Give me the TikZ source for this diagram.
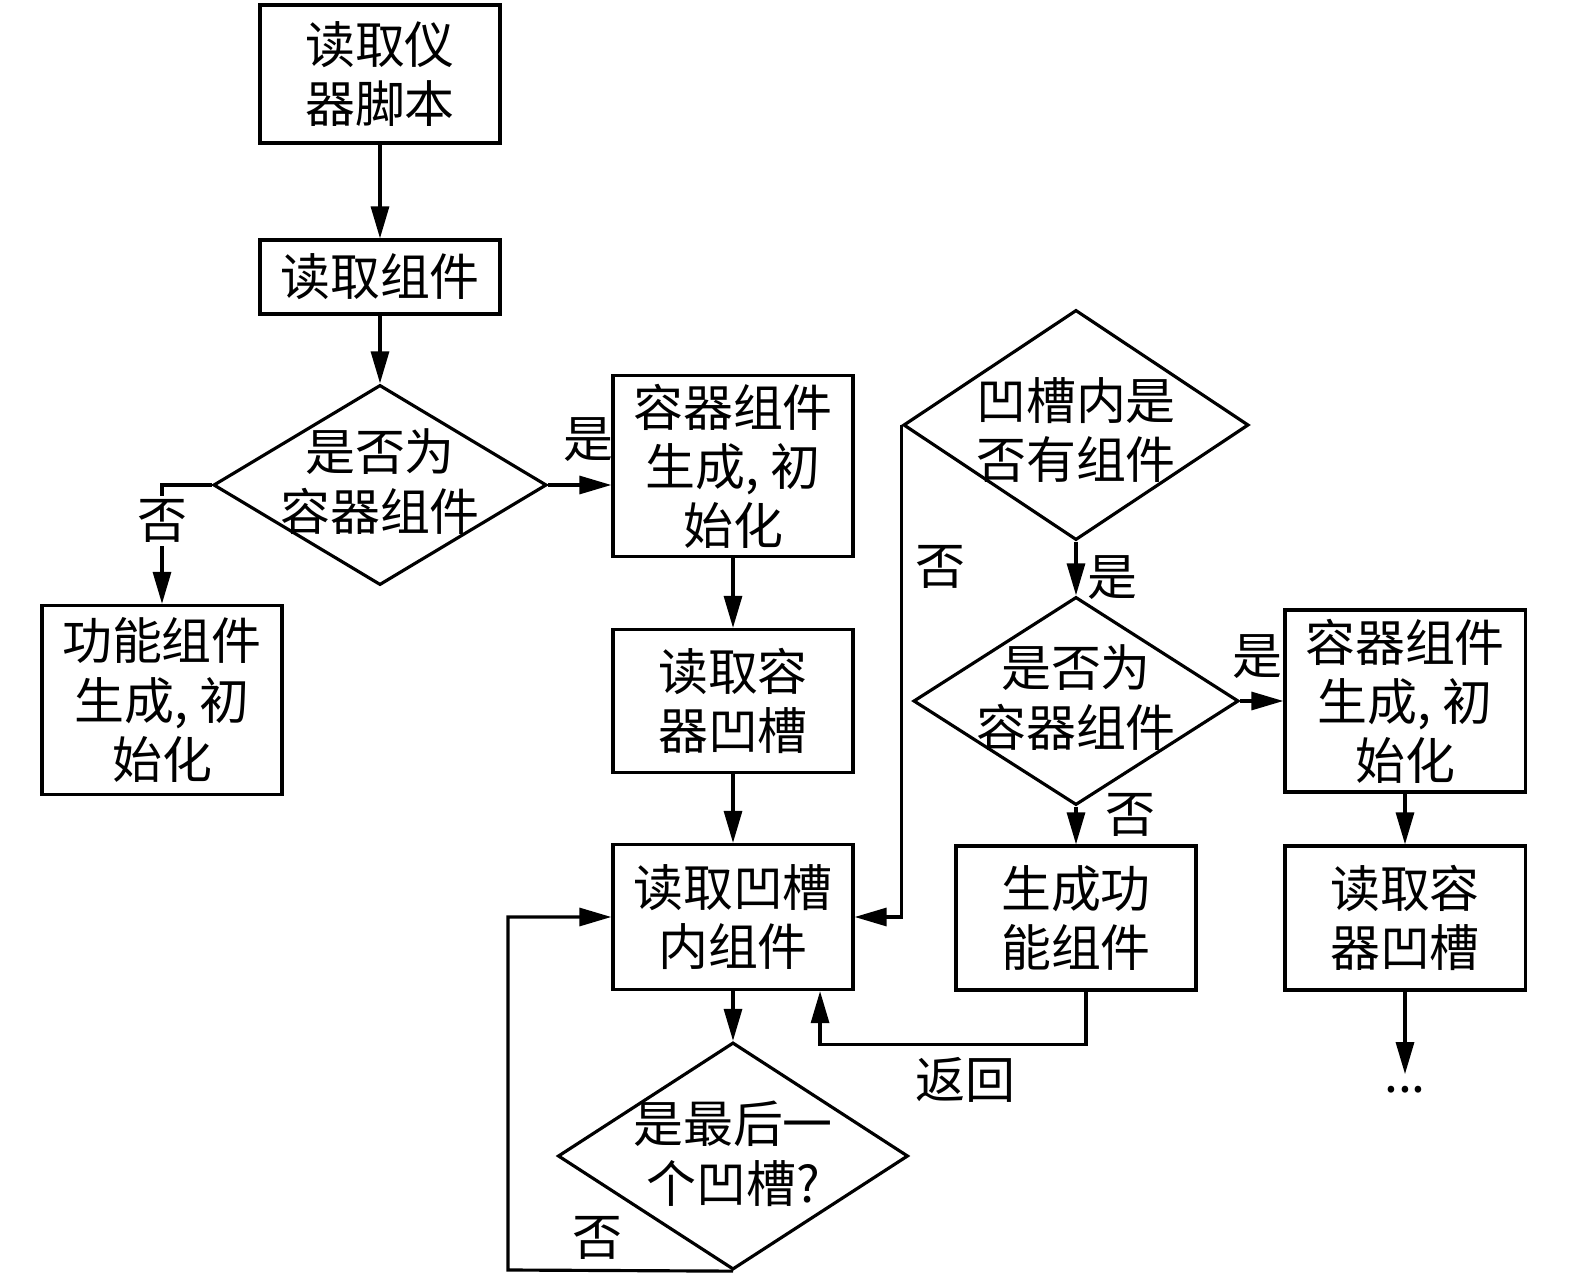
\documentclass[tikz,border=0pt]{standalone}
\usepackage{fontspec}
\setmainfont{Noto Sans CJK SC}
\usetikzlibrary{arrows.meta,shapes.geometric}
\tikzset{
    >={Triangle[length=3.2mm,width=1.8mm]},
    flow/.style={
        every node/.append style={font=\fontsize{14.2pt}{16.8pt}\selectfont},
        proc/.append style={align=center,draw,line width=0.9pt,rectangle,minimum width=2.4cm,inner sep=0pt},
        dec/.append style={draw,line width=0.9pt,diamond,inner sep=0pt},
        lbl/.append style={inner sep=1pt},
        conn/.append style={draw,line width=0.9pt,->}
    }
}
\newcommand{\dtext}[2][-4.5pt]{\makebox[0pt]{\smash{\raisebox{#1}{\begin{tabular}{@{}c@{}}#2\end{tabular}}}}}

\begin{document}
\begin{tikzpicture}[flow,x=0.01cm,y=-0.01cm]
    \useasboundingbox (0,0) rectangle (1575,1285);
    \node[proc,minimum height=1.38cm] (rd) at (380,74) {读取仪\\器脚本};
    \node[proc,minimum height=0.74cm] (rdc) at (380,277) {读取组件};
    \node[dec,minimum width=3.33cm,minimum height=2cm] (isc) at (380,485) {\dtext{是否为\\容器组件}};
    \node[proc,minimum height=1.89cm] (fun) at (162,700) {功能组件\\生成, 初\\始化};
    \node[proc,minimum height=1.81cm] (con) at (733,466) {容器组件\\生成, 初\\始化};
    \node[proc,minimum height=1.43cm] (slot) at (733,701) {读取容\\器凹槽};
    \node[proc,minimum height=1.45cm] (inner) at (733,917) {读取凹槽\\内组件};
    \node[dec,minimum width=3.5cm,minimum height=2.27cm] (last) at (733,1156) {\dtext[-5pt]{是最后一\\个凹槽?}};
    \node[dec,minimum width=3.45cm,minimum height=2.3cm] (has) at (1076,425) {\dtext[-7pt]{凹槽内是\\否有组件}};
    \node[dec,minimum width=3.25cm,minimum height=2.08cm] (isc2) at (1076,701) {\dtext{是否为\\容器组件}};
    \node[proc,minimum height=1.44cm] (gen) at (1076,918) {生成功\\能组件};
    \node[proc,minimum height=1.82cm] (con2) at (1405,701) {容器组件\\生成, 初\\始化};
    \node[proc,minimum height=1.44cm] (slot2) at (1405,918) {读取容\\器凹槽};
    \node (etc) at (1405,1090) {...};
    \coordinate (lp) at (508,1270);

    \path (rd) edge[conn] (rdc);
    \path (rdc) edge[conn] (isc);
    \draw[conn] (isc.east) -- (isc.east -| con.west);
    \node[lbl] (y1) at (588,440) {是};
    \draw[conn] (isc.west) -- (fun.north |- isc.west) -- node[lbl,pos=.3,fill=white] (n1) {否} (fun.north);
    \path (con) edge[conn] (slot);
    \path (slot) edge[conn] (inner);
    \path (inner) edge[conn] (last);
    \draw[conn] (last.south) -- (lp) |- (inner.west);
    \node[lbl] (n2) at (597,1238) {否};
    \draw[conn] (has.west) |- (inner.east);
    \node[lbl] (n3) at (940,567) {否};
    \path (has) edge[conn] (isc2);
    \node[lbl] (y2) at (1112,578) {是};
    \path (isc2) edge[conn] (con2);
    \node[lbl] (y3) at (1257,657) {是};
    \path (isc2) edge[conn] (gen);
    \node[lbl] (n4) at (1130,815) {否};
    \draw[conn] ([xshift=0.1cm]gen.south) -- ++(0,53) -| ([xshift=0.87cm]inner.south);
    \node[lbl] (ret) at (965,1080) {返回};
    \path (con2) edge[conn] (slot2);
    \path (slot2) edge[conn] (etc);
\end{tikzpicture}
\end{document}
